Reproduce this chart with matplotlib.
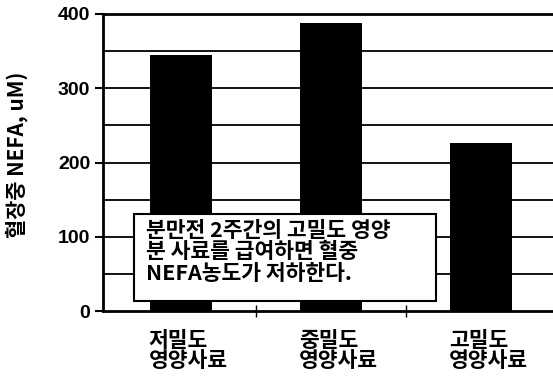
import matplotlib
matplotlib.use('Agg')
import matplotlib.pyplot as plt
import matplotlib.patches as mpatches

plt.rcParams['font.family'] = ['Noto Sans CJK KR', 'DejaVu Sans']

# data
categories = ['저밀도\n영양사료', '중밀도\n영양사료', '고밀도\n영양사료']
nefa = [345, 388, 226]
yticks = [0, 100, 200, 300, 400]
grid_levels = [50, 100, 150, 200, 250, 300, 350]
ylabel = '혈장중 NEFA, uM)'
note = '분만전 2주간의 고밀도 영양\n분 사료를 급여하면 혈중\nNEFA농도가 저하한다.'

fig = plt.figure(figsize=(5.53, 3.87), dpi=100)
ax = fig.add_axes([0.186, 0.196, 0.814, 0.768])

# horizontal grid lines
for g in grid_levels:
    ax.axhline(g, color='black', lw=1.3, zorder=1)

x = list(range(len(categories)))
ax.bar(x, nefa, width=0.41, color='black', zorder=2)

ax.set_xlim(-0.52, 2.48)
ax.set_ylim(0, 400)
ax.set_yticks(yticks)
ax.set_yticklabels([str(t) for t in yticks], fontsize=14, fontweight='bold',
                   family=['Liberation Sans', 'DejaVu Sans'])
ax.tick_params(axis='y', direction='out', length=6, width=1.5, pad=3)

# category boundary ticks
ax.set_xticks([0.5, 1.5])
ax.set_xticklabels([])
ax.tick_params(axis='x', direction='inout', length=8, width=1)

for xi, lab in zip(x, categories):
    ax.text(xi + 0.05, -26, lab, ha='center', va='top', fontsize=15.5,
            fontweight='bold', multialignment='left', linespacing=0.9)

for s in ['left', 'bottom', 'top']:
    ax.spines[s].set_linewidth(2)
ax.spines['right'].set_visible(False)

fig.text(0.03, 0.6, ylabel, rotation=90, ha='center', va='center',
         fontsize=15, fontweight='bold')

# annotation box
rect = mpatches.Rectangle((0.069, 0.034), 0.671, 0.293, transform=ax.transAxes,
                          facecolor='white', edgecolor='black', lw=1.5, zorder=3)
ax.add_patch(rect)
ax.text(0.095, 0.308, note, transform=ax.transAxes, ha='left', va='top',
        fontsize=15.5, fontweight='bold', linespacing=1.05, zorder=4)

plt.savefig('out.png', dpi=100)
